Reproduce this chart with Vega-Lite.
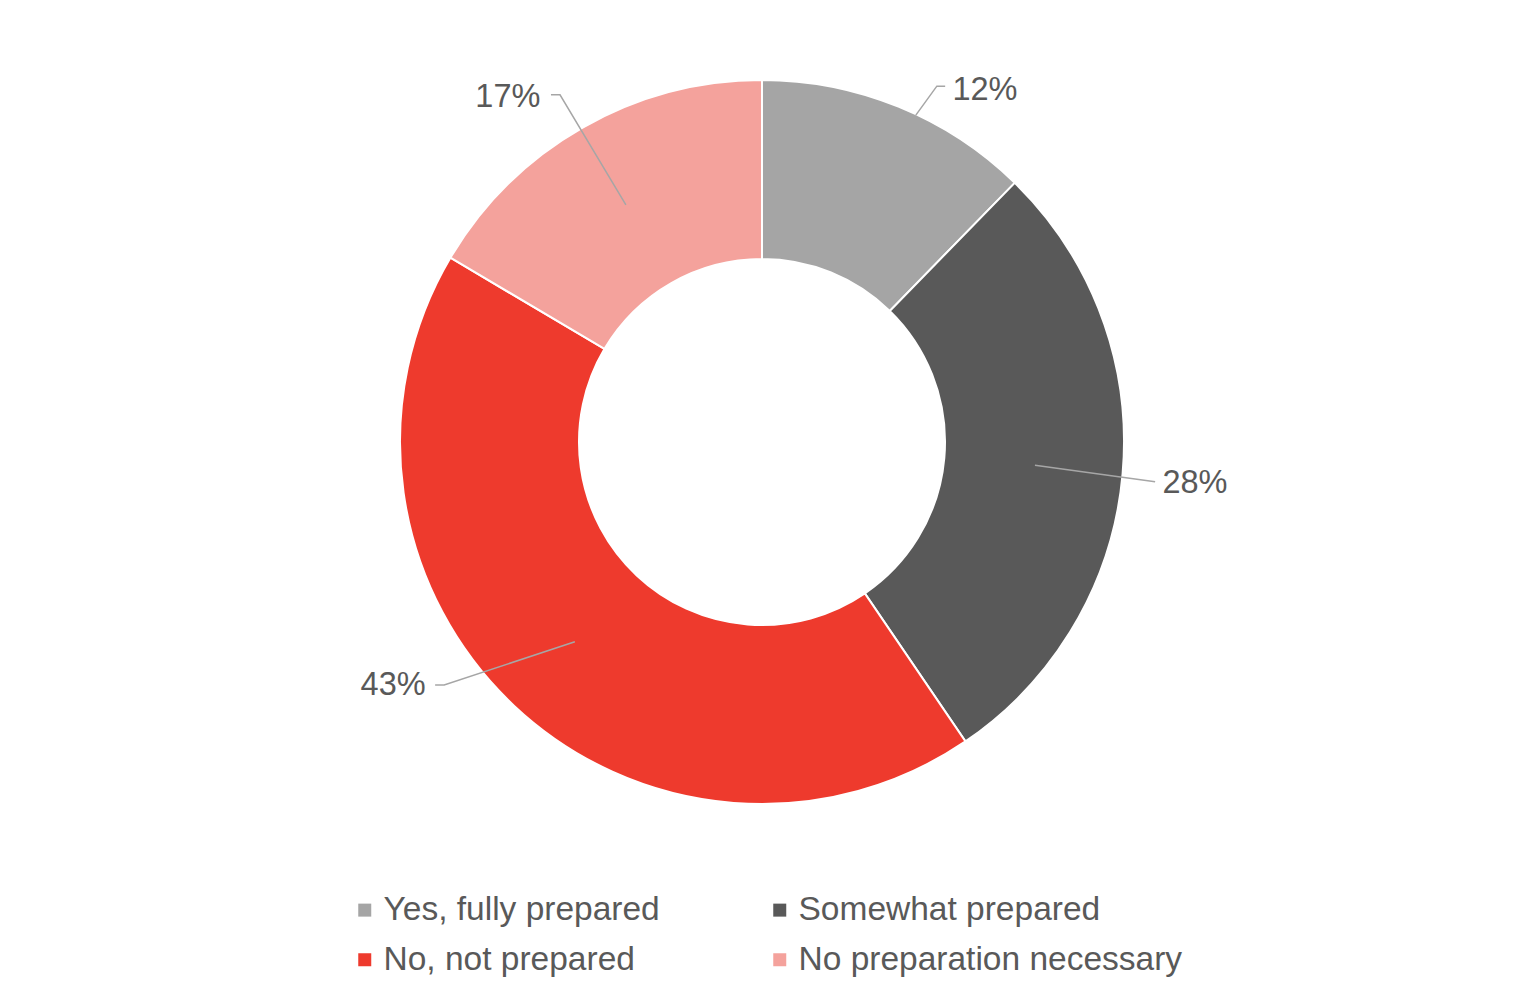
{
  "$schema": "https://vega.github.io/schema/vega-lite/v6.json",
  "width": 1524,
  "height": 884,
  "autosize": {"type": "none"},
  "padding": {"left": 0, "top": 0, "right": 0, "bottom": 110},
  "background": "white",
  "config": {"view": {"stroke": null}, "font": "Liberation Sans"},
  "datasets": {
    "slices": [
      {"category": "Yes, fully prepared", "value": 12.3, "idx": 1},
      {"category": "Somewhat prepared", "value": 28.2, "idx": 2},
      {"category": "No, not prepared", "value": 43.0, "idx": 3},
      {"category": "No preparation necessary", "value": 16.5, "idx": 4}
    ],
    "labels": [
      {"label": "12%", "x": 0.616, "y": 0.972},
      {"label": "28%", "x": 1.196, "y": -0.113},
      {"label": "43%", "x": -1.019, "y": -0.671},
      {"label": "17%", "x": -0.702, "y": 0.953}
    ],
    "leaders": [
      {"id": "a", "seq": 1, "x": 0.425, "y": 0.903},
      {"id": "a", "seq": 2, "x": 0.483, "y": 0.983},
      {"id": "a", "seq": 3, "x": 0.506, "y": 0.983},
      {"id": "b", "seq": 1, "x": 0.754, "y": -0.064},
      {"id": "b", "seq": 2, "x": 1.086, "y": -0.110},
      {"id": "c", "seq": 1, "x": -0.517, "y": -0.552},
      {"id": "c", "seq": 2, "x": -0.878, "y": -0.671},
      {"id": "c", "seq": 3, "x": -0.903, "y": -0.671},
      {"id": "d", "seq": 1, "x": -0.583, "y": 0.959},
      {"id": "d", "seq": 2, "x": -0.558, "y": 0.959},
      {"id": "d", "seq": 3, "x": -0.376, "y": 0.655}
    ]
  },
  "layer": [
    {
      "data": {"name": "slices"},
      "mark": {"type": "arc", "innerRadius": 183, "outerRadius": 362, "stroke": "white", "strokeWidth": 2},
      "encoding": {
        "theta": {"field": "value", "type": "quantitative", "stack": true},
        "order": {"field": "idx", "type": "quantitative"},
        "color": {
          "field": "category",
          "type": "nominal",
          "scale": {
            "domain": ["Yes, fully prepared", "Somewhat prepared", "No, not prepared", "No preparation necessary"],
            "range": ["#A5A5A5", "#595959", "#EE3A2D", "#F4A29C"]
          },
          "legend": {
            "title": null,
            "orient": "none",
            "legendX": 348,
            "legendY": 893,
            "direction": "horizontal",
            "columns": 2,
            "columnPadding": 103,
            "rowPadding": 15,
            "padding": 0,
            "symbolType": "square",
            "symbolSize": 169,
            "symbolStrokeWidth": 0,
            "symbolOpacity": 1,
            "labelFontSize": 33.5,
            "labelFont": "Liberation Sans",
            "labelColor": "#595959",
            "labelOffset": 2,
            "labelLimit": 600
          }
        }
      }
    },
    {
      "data": {"name": "leaders"},
      "mark": {"type": "line", "color": "#A6A6A6", "strokeWidth": 1.5},
      "encoding": {
        "x": {"field": "x", "type": "quantitative", "scale": {"domain": [-2.105, 2.105]}, "axis": null},
        "y": {"field": "y", "type": "quantitative", "scale": {"domain": [-1.221, 1.221]}, "axis": null},
        "detail": {"field": "id"},
        "order": {"field": "seq", "type": "quantitative"}
      }
    },
    {
      "data": {"name": "labels"},
      "mark": {"type": "text", "fontSize": 32.5, "font": "Liberation Sans", "color": "#595959", "align": "center", "baseline": "middle"},
      "encoding": {
        "x": {"field": "x", "type": "quantitative", "scale": {"domain": [-2.105, 2.105]}, "axis": null},
        "y": {"field": "y", "type": "quantitative", "scale": {"domain": [-1.221, 1.221]}, "axis": null},
        "text": {"field": "label"}
      }
    }
  ]
}
